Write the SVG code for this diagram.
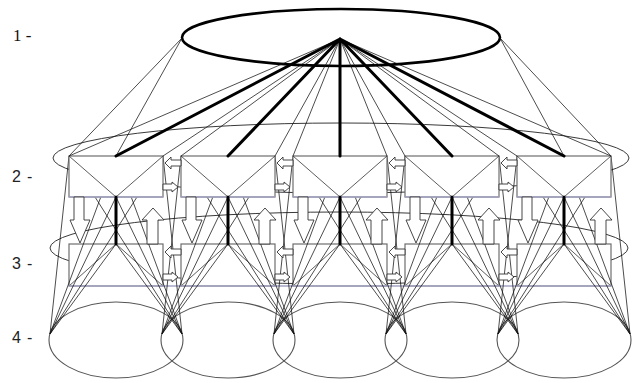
<svg xmlns="http://www.w3.org/2000/svg" width="632" height="383" viewBox="0 0 632 383">
<style>
.e1{fill:#fff;stroke:#000;stroke-width:2.6}
.eb{fill:none;stroke:#222;stroke-width:0.9}
.e4{fill:none;stroke:#555;stroke-width:1.1}
.box{fill:#fff;stroke:#6e6e6e;stroke-width:1.2}
.bot{fill:none;stroke:#a4a4c4;stroke-width:1.4}
.in{fill:none;stroke:#333;stroke-width:0.8}
.thin{fill:none;stroke:#111;stroke-width:0.75}
.thick{fill:none;stroke:#000;stroke-width:3;stroke-linecap:round}
.arr{fill:#fff;stroke:#333;stroke-width:0.9}
.lbl{font-family:"Liberation Sans",Arial,sans-serif;font-size:16px;letter-spacing:0.8px;fill:#222}
.lbl1{font-family:"Liberation Serif","Times New Roman",serif;font-size:17px;fill:#111}
</style>
<defs>
<path id="al" d="M2,0 L8,-6 L8,-3 L18,-3 L18,3 L8,3 L8,6 Z"/>
<path id="ar" d="M0,-3 L9,-3 L9,-5 L15,0 L9,5 L9,3 L0,3 Z"/>
<path id="ad" d="M5,0 L15,0 L15,23 L21,23 L11,46 L1,23 L5,23 Z"/>
<path id="au" d="M84,11 L95,23 L89,23 L89,47 L78,47 L78,23 L73,23 Z"/>
</defs>
<rect width="632" height="383" fill="#fff"/>
<g id="labels">
<text class="lbl1" x="13" y="41">1 -</text>
<text class="lbl" x="12" y="182">2 -</text>
<text class="lbl" x="12" y="269">3 -</text>
<text class="lbl" x="12" y="343">4 -</text>
</g>
<g id="level1"><ellipse class="e1" cx="341" cy="37.5" rx="159" ry="28.5"/></g>
<g id="level2-ring"><ellipse class="eb" cx="341" cy="158" rx="288" ry="35"/></g>
<g id="level3-ring"><ellipse class="eb" cx="339" cy="248" rx="289" ry="36"/></g>
<g id="level3-boxes">
<g id="n3-1"><rect class="box" x="69" y="244" width="94" height="42"/><path class="in" d="M69,286 L116,244 L163,286"/></g>
<g id="n3-2"><rect class="box" x="181" y="244" width="94" height="42"/><path class="in" d="M181,286 L228,244 L275,286"/></g>
<g id="n3-3"><rect class="box" x="293" y="244" width="94" height="42"/><path class="in" d="M293,286 L340,244 L387,286"/></g>
<g id="n3-4"><rect class="box" x="405" y="244" width="94" height="42"/><path class="in" d="M405,286 L452,244 L499,286"/></g>
<g id="n3-5"><rect class="box" x="517" y="244" width="94" height="42"/><path class="in" d="M517,286 L564,244 L611,286"/></g>
<path class="bot" d="M69,286 H611"/>
</g>
<g id="level4">
<g id="n4-1"><ellipse class="e4" cx="116" cy="340" rx="67" ry="38"/></g>
<g id="n4-2"><ellipse class="e4" cx="228" cy="340" rx="67" ry="38"/></g>
<g id="n4-3"><ellipse class="e4" cx="340" cy="340" rx="67" ry="38"/></g>
<g id="n4-4"><ellipse class="e4" cx="452" cy="340" rx="67" ry="38"/></g>
<g id="n4-5"><ellipse class="e4" cx="564" cy="340" rx="67" ry="38"/></g>
</g>
<g id="connectors-cones">
<path class="thin" d="M69,156L50,334M69,156L182,334M116,156L50,334M116,156L182,334M163,156L50,334M163,156L182,334M116,197L50,334M116,197L182,334M116,244L50,334M116,244L182,334"/>
<path class="thin" d="M181,156L162,334M181,156L294,334M228,156L162,334M228,156L294,334M275,156L162,334M275,156L294,334M228,197L162,334M228,197L294,334M228,244L162,334M228,244L294,334"/>
<path class="thin" d="M293,156L274,334M293,156L406,334M340,156L274,334M340,156L406,334M387,156L274,334M387,156L406,334M340,197L274,334M340,197L406,334M340,244L274,334M340,244L406,334"/>
<path class="thin" d="M405,156L386,334M405,156L518,334M452,156L386,334M452,156L518,334M499,156L386,334M499,156L518,334M452,197L386,334M452,197L518,334M452,244L386,334M452,244L518,334"/>
<path class="thin" d="M517,156L498,334M517,156L630,334M564,156L498,334M564,156L630,334M611,156L498,334M611,156L630,334M564,197L498,334M564,197L630,334M564,244L498,334M564,244L630,334"/>
<path class="thin" d="M182,38L69,156M182,38L116,156M500,38L611,156M500,38L564,156"/>
</g>
<g id="level2-boxes">
<g id="n2-1"><rect class="box" x="69" y="156" width="94" height="41"/><path class="in" d="M69,156 L116,197 L163,156"/><path class="bot" d="M69,197 H163"/></g>
<g id="n2-2"><rect class="box" x="181" y="156" width="94" height="41"/><path class="in" d="M181,156 L228,197 L275,156"/><path class="bot" d="M181,197 H275"/></g>
<g id="n2-3"><rect class="box" x="293" y="156" width="94" height="41"/><path class="in" d="M293,156 L340,197 L387,156"/><path class="bot" d="M293,197 H387"/></g>
<g id="n2-4"><rect class="box" x="405" y="156" width="94" height="41"/><path class="in" d="M405,156 L452,197 L499,156"/><path class="bot" d="M405,197 H499"/></g>
<g id="n2-5"><rect class="box" x="517" y="156" width="94" height="41"/><path class="in" d="M517,156 L564,197 L611,156"/><path class="bot" d="M517,197 H611"/></g>
</g>
<g id="connectors-arrows" class="arr">
<use href="#al" x="163" y="163"/><use href="#al" x="275" y="163"/><use href="#al" x="387" y="163"/><use href="#al" x="499" y="163"/>
<use href="#ar" x="163" y="187"/><use href="#ar" x="275" y="187"/><use href="#ar" x="387" y="187"/><use href="#ar" x="499" y="187"/>
<use href="#al" x="163" y="252"/><use href="#al" x="275" y="252"/><use href="#al" x="387" y="252"/><use href="#al" x="499" y="252"/>
<use href="#ar" x="163" y="277"/><use href="#ar" x="275" y="277"/><use href="#ar" x="387" y="277"/><use href="#ar" x="499" y="277"/>
<use href="#ad" x="69" y="197"/><use href="#ad" x="181" y="197"/><use href="#ad" x="293" y="197"/><use href="#ad" x="405" y="197"/><use href="#ad" x="517" y="197"/>
<use href="#au" x="69" y="197"/><use href="#au" x="181" y="197"/><use href="#au" x="293" y="197"/><use href="#au" x="405" y="197"/><use href="#au" x="517" y="197"/>
</g>
<g id="connectors-top">
<path class="thin" d="M340,39L69,156M340,39L163,156M340,39L181,156M340,39L275,156M340,39L293,156M340,39L387,156M340,39L405,156M340,39L499,156M340,39L517,156M340,39L611,156"/>
<path class="thick" d="M340,39L116,156M340,39L228,156M340,39L340,156M340,39L452,156M340,39L564,156"/>
<path class="thick" d="M116,197V244M228,197V244M340,197V244M452,197V244M564,197V244"/>
</g>
</svg>
